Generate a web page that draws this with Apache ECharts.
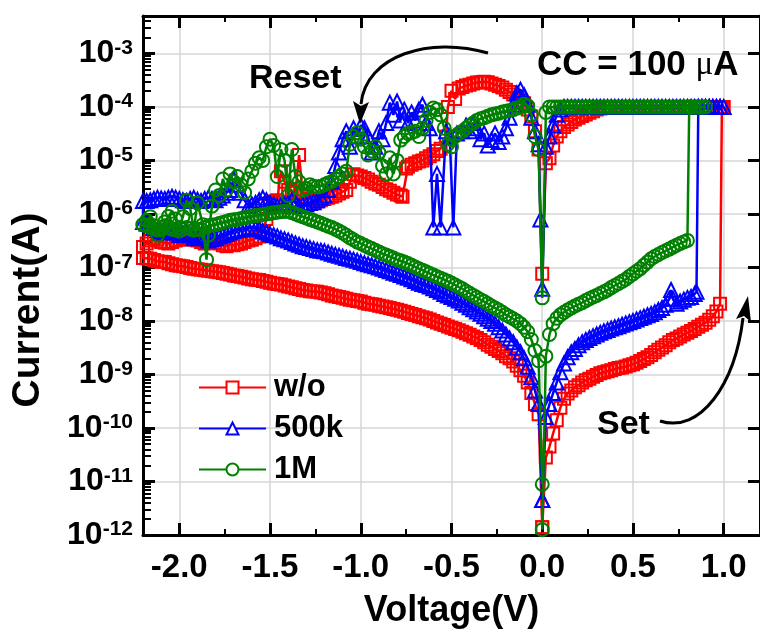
<!DOCTYPE html>
<html>
<head>
<meta charset="utf-8">
<script src="https://cdn.jsdelivr.net/npm/echarts@6/dist/echarts.min.js"></script>
<style>
html,body{margin:0;padding:0;background:#fff;}
#chart{width:760px;height:634px;}
</style>
</head>
<body>
<div id="chart"></div>
<script>
// ---------- data: Voltage (V) and Current (A), each sweep split into segments ----------
// w/o  (red squares)
const redSetV = [0.00,0.02,0.04,0.06,0.08,0.10,0.12,0.14,0.16,0.18,0.20,0.22,0.24,0.26,0.28,0.30,0.32,0.34,0.36,0.38,0.40,0.42,0.44,0.46,0.48,
  0.50,0.52,0.54,0.56,0.58,0.60,0.62,0.64,0.66,0.68,0.70,0.72,0.74,0.76,0.78,0.80,0.82,0.84,0.86,0.88,0.90,0.92,0.94,0.96,0.98];
const redSetI = [1.4e-12,2.8e-11,4.5e-11,7.9e-11,1.4e-10,2.4e-10,3.5e-10,4.4e-10,5.0e-10,5.8e-10,6.3e-10,7.1e-10,7.8e-10,8.3e-10,9.1e-10,9.8e-10,1.05e-9,1.1e-9,1.15e-9,1.2e-9,1.26e-9,1.32e-9,1.35e-9,1.41e-9,1.48e-9,
  1.55e-9,1.66e-9,1.78e-9,1.95e-9,2.1e-9,2.3e-9,2.6e-9,2.9e-9,3.2e-9,3.5e-9,4.0e-9,4.4e-9,4.7e-9,5.1e-9,5.6e-9,6.0e-9,6.5e-9,7.1e-9,7.8e-9,8.5e-9,9.3e-9,1.05e-8,1.23e-8,1.5e-8,2.1e-8];
const redLrsV = [0.99,1.00,0.98,0.96,0.94,0.92,0.90,0.88,0.86,0.84,0.82,0.80,0.78,0.76,0.74,0.72,0.70,0.68,0.66,0.64,0.62,0.60,0.58,0.56,0.54,0.52,0.50,0.48,0.46,0.44,0.42,0.40,0.38,0.36,
  0.34,0.32,0.30,0.28,0.26,0.24,0.22,0.20,0.18,0.16,0.14,0.12,0.10,0.08,0.06,0.04,0.02,0.00];
const redLrsI = [1e-4,1e-4,1e-4,1e-4,1e-4,1e-4,1e-4,1e-4,1e-4,1e-4,1e-4,1e-4,1e-4,1e-4,1e-4,1e-4,1e-4,1e-4,1e-4,1e-4,1e-4,1e-4,1e-4,1e-4,1e-4,1e-4,1e-4,1e-4,1e-4,1e-4,1e-4,1e-4,1e-4,1e-4,
  9.5e-5,9.3e-5,8.9e-5,8.3e-5,7.8e-5,7.2e-5,6.8e-5,6.3e-5,5.8e-5,5.2e-5,4.7e-5,4.2e-5,3.5e-5,2.8e-5,1.9e-5,1.1e-5,8.9e-6,7.6e-8];
const redNegV = [-0.02,-0.04,-0.06,-0.08,-0.10,-0.12,-0.14,-0.16,-0.18,-0.20,-0.22,-0.24,-0.26,-0.28,-0.30,-0.32,-0.34,-0.36,-0.38,-0.40,-0.42,-0.44,-0.46,-0.48,-0.50,
  -0.52,-0.53,-0.56,-0.58,-0.60,-0.62,-0.64,-0.66,-0.68,-0.70,-0.72,-0.74,-0.75,-0.77,-0.78,-0.80,-0.82,-0.84,-0.86,-0.88,-0.90,-0.92,-0.94,-0.96,-0.98,-1.00,-1.02,-1.04,
  -1.06,-1.08,-1.10,-1.12,-1.14,-1.16,-1.18,-1.20,-1.22,-1.24,-1.26,-1.28,-1.30,-1.32,-1.34,-1.36,-1.38,-1.40,-1.42,-1.44,-1.46,-1.48,-1.50,-1.52,-1.54,
  -1.56,-1.58,-1.60,-1.62,-1.64,-1.66,-1.68,-1.70,-1.72,-1.74,-1.76,-1.78,-1.80,-1.82,-1.84,-1.86,-1.88,-1.90,-1.92,-1.94,-1.96,-1.98,-2.00,-2.02,-2.04,-2.06,-2.08,-2.10,-2.12,-2.14,-2.16,-2.18,-2.20];
const redNegI = [1.6e-5,3.5e-5,6.6e-5,8.9e-5,1.17e-4,1.32e-4,1.5e-4,1.7e-4,1.9e-4,2.1e-4,2.3e-4,2.45e-4,2.6e-4,2.75e-4,2.9e-4,2.95e-4,2.9e-4,2.85e-4,2.75e-4,2.6e-4,2.5e-4,2.35e-4,2.2e-4,1.4e-4,2.0e-4,
  1.0e-4,2.8e-5,1.66e-5,1.5e-5,1.3e-5,1.2e-5,1.1e-5,1.0e-5,9.5e-6,8.9e-6,8.3e-6,7.6e-6,7.1e-6,2.1e-6,2.2e-6,2.3e-6,2.5e-6,2.7e-6,2.9e-6,3.2e-6,3.5e-6,3.7e-6,4.0e-6,4.4e-6,4.7e-6,5.0e-6,5.2e-6,5.5e-6,
  4.0e-6,2.8e-6,2.6e-6,2.4e-6,2.2e-6,2.1e-6,2.0e-6,1.9e-6,1.8e-6,1.7e-6,1.8e-6,1.9e-6,2.1e-6,2.4e-6,1.26e-5,2.5e-6,2.6e-6,2.8e-6,4.0e-6,6.3e-6,1.8e-6,1.7e-6,1.6e-6,8.0e-7,4.5e-7,
  3.8e-7,3.5e-7,3.3e-7,3.2e-7,3.0e-7,2.8e-7,2.7e-7,2.6e-7,2.7e-7,2.5e-7,2.6e-7,2.8e-7,2.9e-7,3.0e-7,3.1e-7,2.8e-7,3.0e-7,3.2e-7,3.3e-7,3.4e-7,3.6e-7,3.5e-7,3.3e-7,3.2e-7,3.0e-7,2.8e-7,2.9e-7,3.0e-7,3.3e-7,3.5e-7,3.2e-7,2.8e-7,2.4e-7];
const hrsV = [-2.20,-2.18,-2.16,-2.14,-2.12,-2.10,-2.08,-2.06,-2.04,-2.02,-2.00,-1.98,-1.96,-1.94,-1.92,-1.90,-1.88,-1.86,-1.84,-1.82,-1.80,-1.78,-1.76,-1.74,-1.72,-1.70,
  -1.68,-1.66,-1.64,-1.62,-1.60,-1.58,-1.56,-1.54,-1.52,-1.50,-1.48,-1.46,-1.44,-1.42,-1.40,-1.38,-1.36,-1.34,-1.32,-1.30,-1.28,-1.26,-1.24,-1.22,-1.20,
  -1.18,-1.16,-1.14,-1.12,-1.10,-1.08,-1.06,-1.04,-1.02,-1.00,-0.98,-0.96,-0.94,-0.92,-0.90,-0.88,-0.86,-0.84,-0.82,-0.80,-0.78,-0.76,-0.74,-0.72,-0.70,
  -0.68,-0.66,-0.64,-0.62,-0.60,-0.58,-0.56,-0.54,-0.52,-0.50,-0.48,-0.46,-0.44,-0.42,-0.40,-0.38,-0.36,-0.34,-0.32,-0.30,-0.28,-0.26,-0.24,-0.22,-0.20,
  -0.18,-0.16,-0.14,-0.12,-0.10,-0.08,-0.06,-0.04,-0.02,0.00];
const redHrsI = [1.5e-7,1.48e-7,1.45e-7,1.38e-7,1.3e-7,1.28e-7,1.26e-7,1.2e-7,1.15e-7,1.1e-7,1.07e-7,1.05e-7,1.02e-7,9.8e-8,9.5e-8,9.3e-8,9.1e-8,8.9e-8,8.7e-8,8.5e-8,8.3e-8,8.1e-8,7.9e-8,7.6e-8,7.4e-8,7.1e-8,
  6.9e-8,6.7e-8,6.5e-8,6.2e-8,6.0e-8,5.9e-8,5.8e-8,5.6e-8,5.4e-8,5.2e-8,5.0e-8,4.9e-8,4.8e-8,4.6e-8,4.4e-8,4.25e-8,4.1e-8,3.95e-8,3.8e-8,3.7e-8,3.6e-8,3.55e-8,3.5e-8,3.4e-8,3.3e-8,
  3.15e-8,3.0e-8,2.9e-8,2.8e-8,2.7e-8,2.6e-8,2.5e-8,2.45e-8,2.35e-8,2.3e-8,2.2e-8,2.1e-8,2.05e-8,2.0e-8,1.92e-8,1.86e-8,1.8e-8,1.74e-8,1.68e-8,1.62e-8,1.55e-8,1.48e-8,1.41e-8,1.35e-8,1.29e-8,
  1.23e-8,1.17e-8,1.12e-8,1.06e-8,1.0e-8,9.4e-9,8.9e-9,8.4e-9,7.9e-9,7.5e-9,7.1e-9,6.7e-9,6.3e-9,5.9e-9,5.5e-9,5.1e-9,4.8e-9,4.4e-9,4.0e-9,3.6e-9,3.3e-9,3.0e-9,2.75e-9,2.5e-9,2.2e-9,
  2.0e-9,1.74e-9,1.45e-9,1.2e-9,9.5e-10,7.1e-10,4.5e-10,2.8e-10,1.8e-10,1.4e-12];

// 500k (blue triangles)
const blueSetV = [0.00,0.02,0.04,0.06,0.08,0.10,0.12,0.14,0.16,0.18,0.20,0.22,0.24,0.26,0.28,0.30,0.32,0.34,0.36,0.38,0.40,0.42,0.44,0.46,0.48,
  0.50,0.52,0.54,0.56,0.58,0.60,0.62,0.64,0.66,0.68,0.70,0.71,0.72,0.74,0.76,0.78,0.80,0.82,0.84,0.85];
const blueSetI = [4.5e-12,1.6e-10,2.8e-10,4.5e-10,7.1e-10,1.1e-9,1.6e-9,2.1e-9,2.6e-9,3.0e-9,3.5e-9,4.0e-9,4.4e-9,4.8e-9,5.2e-9,5.6e-9,6.0e-9,6.4e-9,6.8e-9,7.2e-9,7.6e-9,8.0e-9,8.5e-9,9.0e-9,9.5e-9,
  1.0e-8,1.07e-8,1.13e-8,1.2e-8,1.28e-8,1.35e-8,1.45e-8,1.6e-8,1.75e-8,2.0e-8,2.6e-8,3.8e-8,2.6e-8,2.1e-8,2.3e-8,2.5e-8,2.7e-8,2.8e-8,3.2e-8,3.5e-8];
const blueLrsV = [0.86,0.88,0.90,0.92,0.94,0.96,0.98,1.00,0.98,0.96,0.94,0.92,0.90,0.88,0.86,0.84,0.82,0.80,0.78,0.76,0.74,0.72,0.70,0.68,0.66,0.64,0.62,0.60,
  0.58,0.56,0.54,0.52,0.50,0.48,0.46,0.44,0.42,0.40,0.38,0.36,0.34,0.32,0.30,0.28,0.26,0.24,0.22,0.20,0.18,0.16,0.14,0.12,0.10,0.08,0.06,0.04,0.02,0.00];
const blueLrsI = [1e-4,1e-4,1e-4,1e-4,1e-4,1e-4,1e-4,1e-4,1e-4,1e-4,1e-4,1e-4,1e-4,1e-4,1e-4,1e-4,1e-4,1e-4,1e-4,1e-4,1e-4,1e-4,1e-4,1e-4,1e-4,1e-4,1e-4,1e-4,
  1e-4,1e-4,1e-4,1e-4,1e-4,1e-4,1e-4,1e-4,1e-4,1e-4,1e-4,1e-4,1e-4,1e-4,1e-4,1e-4,1e-4,1e-4,1e-4,1e-4,1e-4,1e-4,1e-4,1e-4,8.9e-5,7.1e-5,4.5e-5,2.8e-5,1.8e-5,4.0e-8];
const blueNegV = [-0.01,-0.02,-0.04,-0.06,-0.08,-0.10,-0.12,-0.14,-0.16,-0.18,-0.20,-0.22,-0.24,-0.26,-0.28,-0.30,-0.32,-0.34,-0.36,-0.38,-0.40,-0.42,-0.44,-0.47,-0.49,-0.51,-0.53,
  -0.56,-0.58,-0.60,-0.62,-0.64,-0.66,-0.68,-0.70,-0.72,-0.74,-0.76,-0.78,-0.80,-0.82,-0.84,-0.86,-0.88,-0.90,-0.92,-0.94,-0.96,-0.98,-1.00,-1.02,-1.04,-1.06,-1.08,-1.10,-1.12,
  -1.14,-1.16,-1.18,-1.20,-1.22,-1.24,-1.26,-1.28,-1.30,-1.32,-1.34,-1.36,-1.38,-1.40,-1.42,-1.44,-1.46,-1.48,-1.50,-1.52,-1.54,-1.56,-1.58,-1.60,-1.62,-1.64,-1.66,
  -1.68,-1.70,-1.72,-1.74,-1.76,-1.78,-1.80,-1.82,-1.84,-1.86,-1.88,-1.90,-1.92,-1.94,-1.96,-1.98,-2.00,-2.02,-2.04,-2.06,-2.08,-2.10,-2.12,-2.14,-2.16,-2.18,-2.20];
const blueNegI = [7.9e-7,2.0e-5,3.5e-5,6.3e-5,1.1e-4,1.66e-4,2.1e-4,1.8e-4,1.1e-4,6.3e-5,4.0e-5,2.8e-5,2.2e-5,3.2e-5,2.4e-5,1.9e-5,3.2e-5,2.5e-5,4.0e-5,5.0e-5,3.5e-5,4.5e-5,3.5e-5,3.2e-5,5.6e-7,2.8e-5,3.5e-5,
  5.6e-7,5.6e-6,5.6e-7,4.0e-5,5.0e-5,1.1e-4,8.9e-5,5.6e-5,7.9e-5,5.0e-5,8.9e-5,5.6e-5,1.26e-4,7.1e-5,1.2e-4,5.0e-5,2.5e-5,3.5e-5,1.8e-5,1.4e-5,2.8e-5,4.0e-5,4.5e-5,2.8e-5,4.0e-5,1.8e-5,3.5e-5,2.5e-5,1.4e-5,
  7.9e-6,4.0e-6,2.8e-6,2.2e-6,2.0e-6,1.8e-6,1.66e-6,1.6e-6,1.5e-6,1.45e-6,1.4e-6,1.6e-6,1.8e-6,1.6e-6,1.5e-6,1.45e-6,1.4e-6,1.5e-6,1.6e-6,1.8e-6,2.0e-6,1.8e-6,1.6e-6,1.5e-6,1.4e-6,1.8e-6,2.5e-6,
  3.5e-6,4.5e-6,2.8e-6,2.5e-6,2.2e-6,2.0e-6,1.8e-6,1.9e-6,2.0e-6,1.9e-6,1.74e-6,1.85e-6,2.0e-6,1.9e-6,1.74e-6,1.8e-6,1.9e-6,2.0e-6,2.1e-6,2.0e-6,1.9e-6,1.95e-6,2.0e-6,1.9e-6,1.8e-6,1.75e-6,1.74e-6];
const blueHrsI = [7.1e-7,6.6e-7,6.3e-7,5.6e-7,5.0e-7,4.7e-7,4.5e-7,4.8e-7,5.0e-7,4.5e-7,4.0e-7,4.2e-7,4.5e-7,4.0e-7,3.5e-7,3.7e-7,4.0e-7,3.6e-7,3.2e-7,3.4e-7,3.5e-7,3.8e-7,4.0e-7,4.2e-7,4.5e-7,4.8e-7,
  5.0e-7,5.1e-7,5.2e-7,5.4e-7,5.6e-7,5.4e-7,5.2e-7,4.8e-7,4.5e-7,4.2e-7,4.0e-7,3.8e-7,3.5e-7,3.35e-7,3.2e-7,3.0e-7,2.8e-7,2.65e-7,2.5e-7,2.4e-7,2.3e-7,2.2e-7,2.1e-7,2.05e-7,2.0e-7,
  1.9e-7,1.8e-7,1.72e-7,1.66e-7,1.58e-7,1.5e-7,1.45e-7,1.4e-7,1.33e-7,1.26e-7,1.2e-7,1.15e-7,1.1e-7,1.05e-7,1.0e-7,9.5e-8,9.0e-8,8.5e-8,8.0e-8,7.6e-8,7.2e-8,6.8e-8,6.4e-8,6.0e-8,5.6e-8,
  5.2e-8,4.9e-8,4.7e-8,4.4e-8,4.1e-8,3.8e-8,3.5e-8,3.2e-8,3.0e-8,2.8e-8,2.6e-8,2.4e-8,2.2e-8,2.0e-8,1.8e-8,1.65e-8,1.5e-8,1.36e-8,1.23e-8,1.1e-8,1.0e-8,8.9e-9,7.6e-9,6.6e-9,5.6e-9,
  4.7e-9,4.0e-9,3.2e-9,2.6e-9,2.0e-9,1.4e-9,8.9e-10,5.0e-10,2.8e-10,4.5e-12];

// 1M (green circles)
const greenSetV = [0.00,0.02,0.04,0.06,0.08,0.10,0.12,0.14,0.16,0.18,0.20,0.22,0.24,0.26,0.28,0.30,0.32,0.34,0.36,0.38,0.40,0.42,0.44,0.46,0.48,
  0.50,0.52,0.54,0.56,0.58,0.60,0.62,0.64,0.66,0.68,0.70,0.72,0.74,0.76,0.78,0.80];
const greenSetI = [1.26e-12,2.2e-9,5.6e-9,8.9e-9,1.12e-8,1.3e-8,1.45e-8,1.6e-8,1.75e-8,1.9e-8,2.05e-8,2.2e-8,2.4e-8,2.6e-8,2.8e-8,3.0e-8,3.25e-8,3.5e-8,3.8e-8,4.2e-8,4.6e-8,5.0e-8,5.5e-8,6.0e-8,6.8e-8,
  7.6e-8,8.5e-8,9.5e-8,1.1e-7,1.26e-7,1.45e-7,1.6e-7,1.75e-7,1.9e-7,2.05e-7,2.2e-7,2.4e-7,2.6e-7,2.8e-7,3.0e-7,3.2e-7];
const greenLrsV = [0.81,0.82,0.84,0.86,0.88,0.90,0.88,0.86,0.84,0.82,0.80,0.78,0.76,0.74,0.72,0.70,0.68,0.66,0.64,0.62,0.60,0.58,0.56,0.54,0.52,0.50,
  0.48,0.46,0.44,0.42,0.40,0.38,0.36,0.34,0.32,0.30,0.28,0.26,0.24,0.22,0.20,0.18,0.16,0.14,0.12,0.10,0.08,0.06,0.04,0.02,0.00];
const greenLrsI = [1e-4,1e-4,1e-4,1e-4,1e-4,1e-4,1e-4,1e-4,1e-4,1e-4,1e-4,1e-4,1e-4,1e-4,1e-4,1e-4,1e-4,1e-4,1e-4,1e-4,1e-4,1e-4,1e-4,1e-4,1e-4,1e-4,
  1e-4,1e-4,1e-4,1e-4,1e-4,1e-4,1e-4,1e-4,1e-4,1e-4,1e-4,1e-4,1e-4,1e-4,1e-4,1e-4,1e-4,1e-4,1e-4,1e-4,1e-4,1e-4,1e-4,7.9e-5,2.7e-8];
const greenNegV = [-0.02,-0.04,-0.06,-0.08,-0.10,-0.12,-0.14,-0.16,-0.18,-0.20,-0.22,-0.24,-0.26,-0.28,-0.30,-0.32,-0.34,-0.36,-0.38,-0.40,-0.42,-0.44,-0.46,-0.48,-0.50,
  -0.52,-0.54,-0.56,-0.58,-0.60,-0.62,-0.64,-0.66,-0.68,-0.70,-0.72,-0.74,-0.76,-0.78,-0.80,-0.82,-0.84,-0.86,-0.88,-0.90,-0.92,-0.94,-0.96,-0.98,-1.00,
  -1.02,-1.04,-1.06,-1.08,-1.10,-1.12,-1.14,-1.16,-1.18,-1.20,-1.22,-1.24,-1.26,-1.28,-1.30,-1.32,-1.34,-1.36,-1.38,-1.40,-1.42,-1.44,-1.46,-1.48,-1.50,
  -1.52,-1.54,-1.56,-1.58,-1.60,-1.62,-1.64,-1.66,-1.68,-1.70,-1.72,-1.74,-1.76,-1.78,-1.80,-1.82,-1.84,-1.85,-1.87,-1.90,-1.92,-1.94,-1.96,-1.98,-2.00,
  -2.02,-2.04,-2.06,-2.08,-2.10,-2.12,-2.14,-2.16,-2.18,-2.20];
const greenNegI = [1.6e-5,2.8e-5,7.1e-5,1.05e-4,1.12e-4,1.0e-4,9.5e-5,8.9e-5,8.6e-5,8.3e-5,8.0e-5,7.6e-5,7.4e-5,7.1e-5,6.7e-5,6.3e-5,6.0e-5,5.6e-5,5.0e-5,4.5e-5,4.0e-5,3.5e-5,3.2e-5,2.8e-5,1.8e-5,
  2.0e-5,4.0e-5,7.1e-5,8.9e-5,9.5e-5,7.9e-5,5.6e-5,4.0e-5,2.8e-5,3.5e-5,3.3e-5,3.2e-5,2.8e-5,2.4e-5,1.0e-5,5.6e-6,1.12e-5,5.6e-6,7.9e-6,1.4e-5,1.8e-5,1.5e-5,1.26e-5,1.8e-5,2.5e-5,
  3.3e-5,2.8e-5,2.0e-5,6.3e-6,5.6e-6,5.0e-6,4.5e-6,4.0e-6,3.8e-6,3.5e-6,3.3e-6,3.2e-6,3.3e-6,3.5e-6,3.0e-6,2.8e-6,4.0e-6,5.0e-6,1.6e-5,2.2e-6,1.0e-5,1.6e-5,5.0e-6,1.9e-5,2.5e-5,
  1.8e-5,1.0e-5,1.12e-5,8.9e-6,6.3e-6,4.5e-6,2.5e-6,3.5e-6,5.0e-6,4.0e-6,5.6e-6,2.8e-6,4.5e-6,2.2e-6,2.8e-6,1.4e-6,4.0e-7,1.4e-7,6.3e-7,1.6e-6,5.0e-7,1.26e-6,1.8e-6,8.9e-7,5.6e-7,
  8.0e-7,1.12e-6,9.0e-7,7.1e-7,5.0e-7,4.0e-7,6.0e-7,8.9e-7,7.5e-7,6.3e-7];
const greenHrsI = [6.3e-7,6.0e-7,5.6e-7,5.3e-7,5.0e-7,5.5e-7,6.0e-7,5.6e-7,5.2e-7,5.0e-7,4.8e-7,5.2e-7,5.6e-7,5.3e-7,5.0e-7,5.1e-7,5.2e-7,5.6e-7,6.0e-7,6.2e-7,6.3e-7,6.6e-7,6.9e-7,7.2e-7,7.6e-7,7.8e-7,
  7.9e-7,8.2e-7,8.5e-7,8.8e-7,9.1e-7,9.3e-7,9.5e-7,9.8e-7,1.0e-6,1.02e-6,1.05e-6,1.08e-6,1.1e-6,1.11e-6,1.12e-6,1.06e-6,1.0e-6,9.4e-7,8.9e-7,8.4e-7,7.9e-7,7.5e-7,7.1e-7,6.7e-7,6.3e-7,
  5.9e-7,5.6e-7,5.2e-7,4.8e-7,4.4e-7,4.0e-7,3.6e-7,3.3e-7,3.0e-7,2.8e-7,2.6e-7,2.4e-7,2.25e-7,2.1e-7,1.95e-7,1.8e-7,1.7e-7,1.6e-7,1.5e-7,1.4e-7,1.33e-7,1.26e-7,1.18e-7,1.1e-7,1.02e-7,
  9.5e-8,8.9e-8,8.3e-8,7.7e-8,7.2e-8,6.7e-8,6.3e-8,5.9e-8,5.5e-8,5.1e-8,4.7e-8,4.3e-8,4.0e-8,3.6e-8,3.3e-8,3.0e-8,2.75e-8,2.5e-8,2.3e-8,2.1e-8,1.9e-8,1.75e-8,1.6e-8,1.45e-8,1.3e-8,
  1.2e-8,1.1e-8,1.0e-8,8.9e-9,7.6e-9,6.3e-9,4.5e-9,2.8e-9,1.8e-9,8.9e-12];

const seriesNames = ['w/o', '500k', '1M'];
const seriesColors = ['#ff0000', '#0000ff', '#008000'];
const seriesSymbols = ['rect', 'triangle', 'circle'];
const seriesSymbolSizes = [12, 14, 13];

const xMin = -2.2, xMax = 1.2;
const yMin = 1e-12, yMax = 5e-3;

// ---------- chart ----------
const FONT = "'Liberation Sans', Arial, Helvetica, sans-serif";
const chart = echarts.init(document.getElementById('chart'), null, {renderer: 'canvas'});

function pairs(Vs, Is) {
  const out = [];
  Vs.forEach((V, s) => V.forEach((v, i) => out.push([v, Is[s][i]])));
  return out;
}
const dataSets = [
  pairs([redSetV, redLrsV, redNegV, hrsV], [redSetI, redLrsI, redNegI, redHrsI]),
  pairs([blueSetV, blueLrsV, blueNegV, hrsV], [blueSetI, blueLrsI, blueNegI, blueHrsI]),
  pairs([greenSetV, greenLrsV, greenNegV, hrsV], [greenSetI, greenLrsI, greenNegI, greenHrsI])
];

const xLabelFmt = v => (Math.abs(v * 2 - Math.round(v * 2)) < 1e-6 ? v.toFixed(1) : '');
const yLabelFmt = v => {
  const l = Math.log10(v);
  const e = Math.round(l);
  if (Math.abs(l - e) > 1e-6) return '';
  return '{b|10}{s|' + e + '}';
};

const tickStyle = {color: '#000', width: 3};
const minorStyle = {color: '#000', width: 2};

const annotations = [
  {type: 'text', x: 28, y: 310, rotation: Math.PI / 2, z: 100,
    style: {text: 'Current(A)', font: "bold 39px 'Liberation Sans', Arial, sans-serif", fill: '#000', align: 'center', verticalAlign: 'middle'}},
  {type: 'text', left: 249, top: 62, z: 100, style: {text: 'Reset', font: "bold 34px 'Liberation Sans', Arial, sans-serif", fill: '#000'}},
  {type: 'text', left: 537, top: 48, z: 100, style: {
    text: '{a|CC = 100 }{m|\u03bc}{a|A}',
    rich: {
      a: {fontFamily: FONT, fontWeight: 'bold', fontSize: 35, fill: '#000'},
      m: {fontFamily: "'Liberation Serif', 'DejaVu Serif', serif", fontWeight: 'normal', fontSize: 33, fill: '#000'}
    }}},
  {type: 'text', left: 597, top: 408, z: 100, style: {text: 'Set', font: "bold 34px 'Liberation Sans', Arial, sans-serif", fill: '#000'}},
  {type: 'bezierCurve', z: 100, shape: {x1: 488, y1: 53, cpx1: 430, cpy1: 36, cpx2: 366, cpy2: 55, x2: 361, y2: 104},
    style: {stroke: '#000', lineWidth: 3, fill: null}},
  {type: 'polygon', z: 100, shape: {points: [[360, 124], [353, 101], [361, 106], [369, 102]]}, style: {fill: '#000'}},
  {type: 'bezierCurve', z: 100, shape: {x1: 660, y1: 421, cpx1: 700, cpy1: 434, cpx2: 735, cpy2: 385, x2: 743, y2: 318},
    style: {stroke: '#000', lineWidth: 3, fill: null}},
  {type: 'polygon', z: 100, shape: {points: [[748, 296], [751, 322], [744, 316], [736, 319]]}, style: {fill: '#000'}}
];

const option = {
  animation: false,
  backgroundColor: '#fff',
  grid: {left: 143, top: 16, right: -8, bottom: 92, containLabel: false},
  legend: {
    orient: 'vertical', left: 198, top: 372, padding: 0, itemGap: 10,
    itemWidth: 67, itemHeight: 15,
    data: seriesNames,
    itemStyle: {color: '#fff'},
    textStyle: {fontFamily: FONT, fontWeight: 'bold', fontSize: 31, color: '#000', lineHeight: 30, padding: [0, 0, 0, 3]}
  },
  xAxis: [
    {
      type: 'value', min: xMin, max: xMax, position: 'bottom', splitNumber: 5, minInterval: 0.5, maxInterval: 0.5,
      axisLine: {show: true, onZero: false, lineStyle: {color: '#000', width: 3}},
      axisTick: {show: true, inside: true, length: 12, lineStyle: tickStyle},
      minorTick: {show: true, splitNumber: 2, length: 6, lineStyle: minorStyle},
      splitLine: {show: true, lineStyle: {color: '#d6d6d6', width: 1.5}},
      axisLabel: {formatter: xLabelFmt, margin: 16, fontFamily: FONT, fontWeight: 'bold', fontSize: 33, color: '#000', showMinLabel: false, showMaxLabel: false},
      name: 'Voltage(V)', nameLocation: 'middle', nameGap: 58,
      nameTextStyle: {fontFamily: FONT, fontWeight: 'bold', fontSize: 36, color: '#000'}
    },
    {
      type: 'value', min: xMin, max: xMax, position: 'top', splitNumber: 5, minInterval: 0.5, maxInterval: 0.5,
      axisLine: {show: true, onZero: false, lineStyle: {color: '#000', width: 3}},
      axisTick: {show: true, inside: true, length: 12, lineStyle: tickStyle},
      minorTick: {show: true, splitNumber: 2, length: 6, lineStyle: minorStyle},
      splitLine: {show: false}, axisLabel: {show: false}
    }
  ],
  yAxis: [
    {
      type: 'log', logBase: 10, min: yMin, max: yMax, position: 'left',
      axisLine: {show: true, onZero: false, lineStyle: {color: '#000', width: 3}},
      axisTick: {show: true, inside: true, length: 12, lineStyle: tickStyle},
      minorTick: {show: true, splitNumber: 9, length: 8, lineStyle: minorStyle},
      splitLine: {show: true, lineStyle: {color: '#d6d6d6', width: 1.5}},
      axisLabel: {
        formatter: yLabelFmt, margin: 10, color: '#000',
        rich: {
          b: {fontFamily: FONT, fontWeight: 'bold', fontSize: 32, lineHeight: 32, color: '#000', verticalAlign: 'bottom'},
          s: {fontFamily: FONT, fontWeight: 'bold', fontSize: 21, lineHeight: 21, color: '#000', verticalAlign: 'top'}
        }
      }
    },
    {
      type: 'log', logBase: 10, min: yMin, max: yMax, position: 'right',
      axisLine: {show: true, onZero: false, lineStyle: {color: '#000', width: 3}},
      axisTick: {show: true, inside: true, length: 12, lineStyle: tickStyle},
      minorTick: {show: false}, splitLine: {show: false}, axisLabel: {show: false}
    }
  ],
  series: dataSets.map((d, k) => ({
    type: 'line', name: seriesNames[k], data: d, xAxisIndex: 0, yAxisIndex: 0,
    symbol: seriesSymbols[k], symbolSize: seriesSymbolSizes[k], showSymbol: true, showAllSymbol: true,
    itemStyle: {color: 'rgba(255,255,255,0)', borderColor: seriesColors[k], borderWidth: 2},
    lineStyle: {color: seriesColors[k], width: 2.5},
    emphasis: {disabled: true}, z: 2 + k
  })),
  graphic: annotations
};
chart.setOption(option);
</script>
</body>
</html>
